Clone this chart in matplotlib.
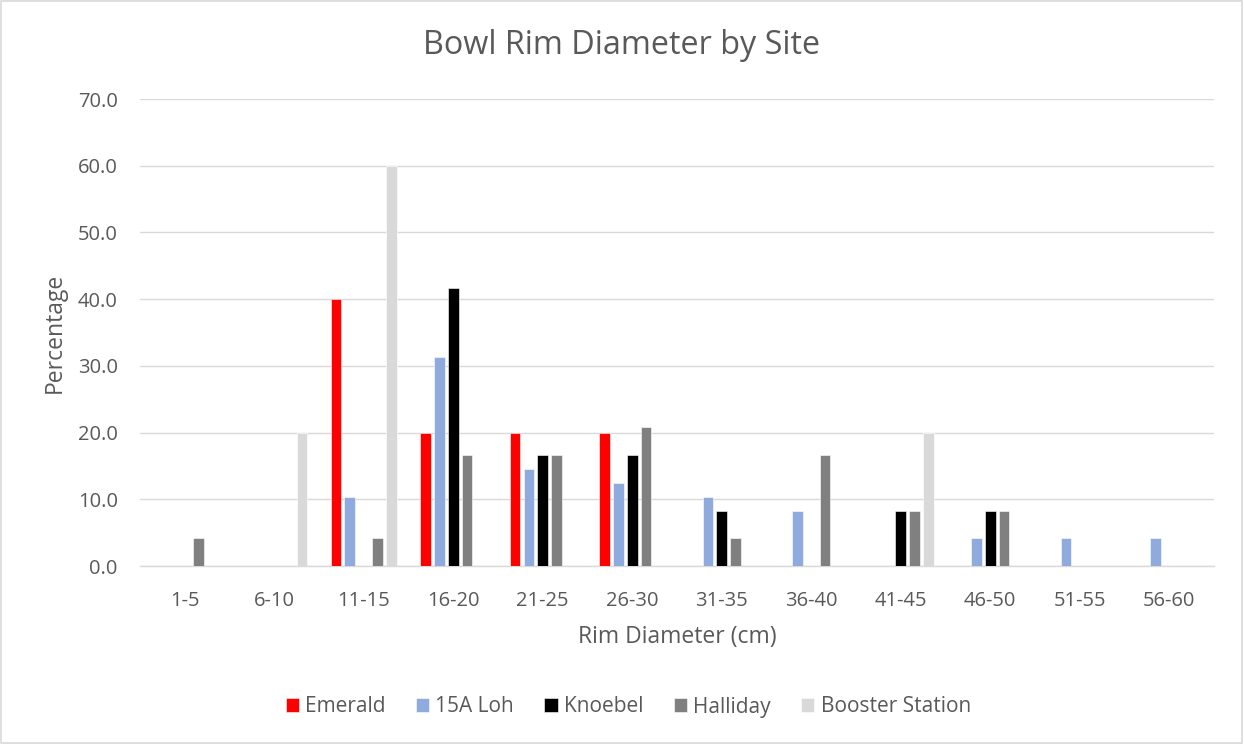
import matplotlib
matplotlib.use("Agg")
import matplotlib.pyplot as plt
from matplotlib.patches import Rectangle
from matplotlib.ticker import FormatStrFormatter
import numpy as np

categories = ["1-5", "6-10", "11-15", "16-20", "21-25", "26-30",
              "31-35", "36-40", "41-45", "46-50", "51-55", "56-60"]

emerald = [0, 0, 40.0, 20.0, 20.0, 20.0, 0, 0, 0, 0, 0, 0]
loh_15a = [0, 0, 10.4, 31.3, 14.6, 12.5, 10.4, 8.3, 0, 4.2, 4.2, 4.2]
knoebel = [0, 0, 0, 41.7, 16.7, 16.7, 8.3, 0, 8.3, 8.3, 0, 0]
halliday = [4.2, 0, 4.2, 16.7, 16.7, 20.8, 4.2, 16.7, 8.3, 8.3, 0, 0]
booster = [0, 20.0, 60.0, 0, 0, 0, 0, 0, 20.0, 0, 0, 0]

series_names = ["Emerald", "15A Loh", "Knoebel", "Halliday", "Booster Station"]
series_values = [emerald, loh_15a, knoebel, halliday, booster]
series_colors = ["#FF0000", "#8FAADC", "#000000", "#808080", "#D9D9D9"]

text_color = "#595959"
grid_color = "#D9D9D9"
plt.rcParams["font.family"] = ["Open Sans", "DejaVu Sans"]

fig = plt.figure(figsize=(12.44, 7.44), dpi=100)
ax = fig.add_axes([0.1125, 0.2392, 0.8634, 0.6277])

x = np.arange(len(categories))
step = 0.1547
width = 0.12
for i, (name, vals, col) in enumerate(zip(series_names, series_values, series_colors)):
    vals = np.array(vals, dtype=float)
    ax.bar(x + (i - 2) * step, vals, width=width, color=col, label=name,
           edgecolor="white", linewidth=0.4, zorder=3)

ax.set_xlim(-0.5, len(categories) - 0.5)
ax.set_ylim(0, 70)
ax.set_yticks(np.arange(0, 71, 10))
ax.yaxis.set_major_formatter(FormatStrFormatter("%.1f"))
ax.set_xticks(x)
ax.set_xticklabels(categories)

ax.grid(axis="y", color=grid_color, linewidth=1.0, zorder=0)
for side in ["top", "right", "left"]:
    ax.spines[side].set_visible(False)
ax.spines["bottom"].set_color(grid_color)
ax.spines["bottom"].set_linewidth(1.0)
ax.tick_params(axis="both", length=0, labelsize=14.5, colors=text_color)
ax.tick_params(axis="x", pad=18)
ax.tick_params(axis="y", pad=16)

ax.set_xlabel("Rim Diameter (cm)", fontsize=16.5, color=text_color, labelpad=10)
ax.set_ylabel("Percentage", fontsize=16.5, color=text_color, labelpad=8)

fig.text(0.5, 1 - 45 / 744, "Bowl Rim Diameter by Site", ha="center", va="center",
         fontsize=23.3, color=text_color)

handles, labels = ax.get_legend_handles_labels()
leg = fig.legend(handles, labels, loc="center", bbox_to_anchor=(0.505, 1 - 707 / 744),
                 ncol=5, frameon=False, fontsize=15, handlelength=0.64,
                 handleheight=0.64, handletextpad=0.3, columnspacing=1.45,
                 labelcolor=text_color)

fig.patches.append(Rectangle((0.001, 0.001), 0.997, 0.997, transform=fig.transFigure,
                             fill=False, edgecolor=grid_color, linewidth=1.2))

fig.savefig("out.png", dpi=100, facecolor="white")
